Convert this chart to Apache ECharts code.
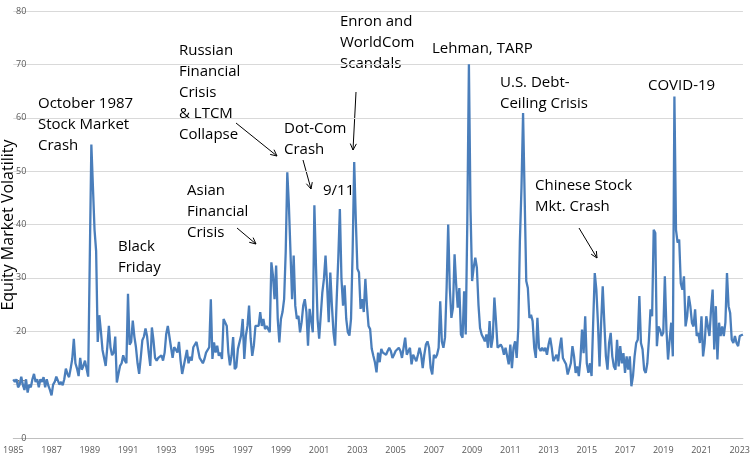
<!DOCTYPE html>
<html>
<head>
<meta charset="utf-8">
<script src="https://cdn.jsdelivr.net/npm/echarts@6/dist/echarts.min.js"></script>
<style>
body{margin:0;background:#fff}
#chart{width:753px;height:464px}
</style>
</head>
<body>
<div id="chart"></div>
<script>
// monthly equity market volatility
const vol = [
11,10.5,11,9.5,10,11.5,10,9,11,8.5,10,9.5,11,12,10.5,11,9.5,11,10.5,
11.4,9.5,11,9.8,9,8,10,10.5,11.5,11.7,10,10.5,9.9,11,13,12,11.4,13,14.8,18.6,14,13,11.6,15,12.8,13.5,14.5,13,11.5,11.3,
55,55,39,35,18,23,20,16.5,15,13.5,17,21,17,15.5,16,19,10.4,12,13.5,14,15.5,14.5,14,27,17.5,18,22,19,17,14,12,15,18.3,19,20.5,19,16,
13.5,20.7,18.3,15,14.5,15,14.8,15.5,14.5,16,19.5,21,20.7,17,15,17,16.6,16,18,14.5,12,12.3,15,16.5,14,15.2,14.5,17,17,18,18,15,15,14,14.8,16,16,17,26,
14.8,17.9,16,17.3,15.4,16,14.8,22.3,22.6,21,16,13.6,15.4,18.9,12.9,13.3,16.7,16.7,19.2,22.3,14.8,19.2,21,24.8,18.6,15.4,17.3,21,21,21,23.6,21,22.3,20.4,21,20.4,19.8,
32.9,30.4,26,32.3,22.3,17.9,22.3,23.6,26,34.8,49.8,43.6,34.8,26,34.2,24.8,22.3,22.9,19.8,21.7,24.8,26,23.6,17.3,24.2,24.2,19.8,43.6,32.3,22.3,18.6,18.6,27.3,29.8,34.2,28.6,21.7,31,24.8,19.8,17.3,26,33.6,42.9,29.8,24.8,28.6,22.3,19.8,19.2,22.3,34.8,
51.7,41,31.7,31,24.2,26,23.6,29.8,24.8,21,20.4,16.7,15.4,14.2,12.3,16,14.2,16.7,16,
16.3,15.6,16.3,16.9,16.3,15,15.6,16.3,16.6,16.9,16.3,15,16.9,18.8,15.6,16.3,16.9,13.8,15.6,15,14.4,15.6,16.9,15.6,13.1,15.6,17.5,18.1,16.9,13.1,11.9,15.6,15,15.6,16.9,
25.6,18.1,16.9,18.8,28.1,40,28.1,22.5,24.4,34.4,28.8,24.4,28.1,19.4,18.8,27.5,19.4,40.6,70,43,29.4,31.9,33.8,31.9,25,20.6,19.4,18.8,18.1,19.4,16.9,21.9,16.9,18.8,26.3,21.9,16.9,16.9,17.5,16.9,15.6,16.9,16.9,13.8,17.5,13.1,16.9,18.1,15,20.6,
36.9,46.9,60.9,45,29.4,28.1,22.5,23.1,21.9,16.9,15,22.5,16.9,16.3,16.9,16.3,16.9,15.6,17.5,18.8,16.9,14.4,15,15.6,14.4,16.9,18.8,15,14.4,13.8,11.9,
11.6,14,17.2,15.3,12.2,13.4,11.6,14.7,20.3,15.9,22.8,14,12.2,14,11.6,21.6,30.9,27.8,21.6,13.4,21.6,28.4,21.6,15.3,12.8,17.8,19.7,15.3,13.4,12.8,18.4,13.4,17.2,14,15.9,12.2,15.3,12.8,15.3,9.7,11.6,15.3,17.8,18.4,26.6,17.8,16.6,12.8,12.2,14,18.4,
24.1,22.8,39,38.4,17.2,20.9,20.3,19.1,19.7,30.3,20.3,14.7,18.4,21.6,15.3,64,39,36.6,37.2,29,27.8,30.3,20.9,22.8,26.6,24.7,21.6,20.9,24.1,19.1,19.7,17.8,22.8,15.3,17.8,22.8,22.8,19.1,24.1,27.8,16.6,24.7,14.7,21.6,19.1,20.9,19.1,21.6,30.9,24.7,23.4,18.4,17.8,19.1,17.8,17.2,19.1,19.1,19.4
]

let months = []
for(let i=0; i<vol.length; i++)
    months.push(String(1985 + Math.floor(i/12)))

const font = 'Open Sans'
const notes = [
    ['October 1987\nStock Market\nCrash', 38, 93],
    ['Black\nFriday', 118, 236],
    ['Asian\nFinancial\nCrisis', 187, 180],
    ['Russian\nFinancial\nCrisis\n& LTCM\nCollapse', 179, 40],
    ['Dot-Com\nCrash', 284, 118],
    ['9/11', 323, 180],
    ['Enron and\nWorldCom\nScandals', 340, 11],
    ['Lehman, TARP', 432, 38],
    ['U.S. Debt-\nCeiling Crisis', 500, 72],
    ['Chinese Stock\nMkt. Crash', 535, 175],
    ['COVID-19', 648, 75]
]
const arrows = [
    [237,228,256,244], [236,123,277,156], [303,160,311,189], [356,92,353,150], [579,228,597,258]
]

let graphics = []
notes.forEach(n => {
    graphics.push({type:'text', left:n[1], top:n[2],
        style:{text:n[0], font:'15px "' + font + '"', lineHeight:21, fill:'#000'}})
})
arrows.forEach(a => {
    const ang = Math.atan2(a[3]-a[1], a[2]-a[0])
    graphics.push({type:'line', shape:{x1:a[0],y1:a[1],x2:a[2],y2:a[3]}, style:{stroke:'#000',lineWidth:1}})
    graphics.push({type:'polyline', shape:{points:[
        [a[2]-7*Math.cos(ang-0.45), a[3]-7*Math.sin(ang-0.45)], [a[2],a[3]],
        [a[2]-7*Math.cos(ang+0.45), a[3]-7*Math.sin(ang+0.45)]]}, style:{stroke:'#000',lineWidth:1,fill:null}})
})
graphics.push({type:'text', x:8, y:225, rotation:Math.PI/2,
    style:{text:'Equity Market Volatility', font:'16px "' + font + '"', fill:'#000', align:'center', verticalAlign:'middle'}})

var chart = echarts.init(document.getElementById('chart'))
chart.setOption({
    animation: false,
    grid: {left: 10, right: 6, top: 11, bottom: 26},
    xAxis: {
        type: 'category',
        data: months,
        boundaryGap: false,
        axisLine: {lineStyle: {color: '#bfbfbf'}},
        axisTick: {show: false},
        axisLabel: {interval: 23, color: '#595959', fontSize: 9, fontFamily: font, margin: 8}
    },
    yAxis: {
        type: 'value', min: 0, max: 80, interval: 10,
        axisLabel: {color: '#595959', fontSize: 9, fontFamily: font, margin: -13},
        splitLine: {lineStyle: {color: '#d9d9d9'}}
    },
    series: [{
        type: 'line', data: vol, symbol: 'none',
        lineStyle: {color: '#4a7ebb', width: 2.3}
    }],
    graphic: graphics
})
</script>
</body>
</html>
